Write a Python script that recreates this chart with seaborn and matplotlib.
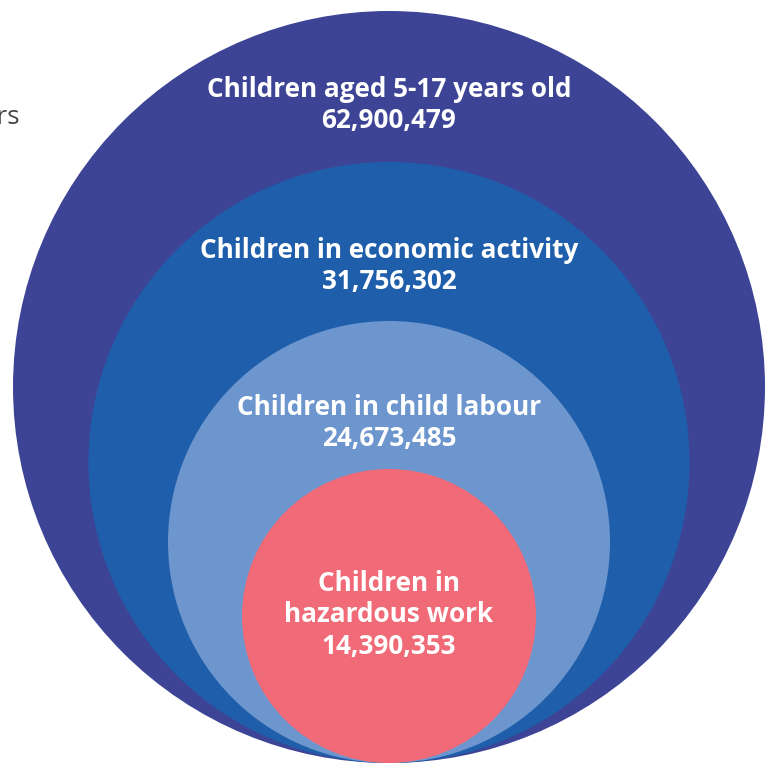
import matplotlib.patches as mpatches
import matplotlib.pyplot as plt
import seaborn as sns

sns.set_theme(style="white")
plt.rcParams['font.family'] = ['Open Sans', 'DejaVu Sans']

# nested groups, outermost first
groups = ["Children aged 5-17 years old",
          "Children in economic activity",
          "Children in child labour",
          "Children in\nhazardous work"]
counts = [62900479, 31756302, 24673485, 14390353]

# drawing sizes (px), circles all touch at the bottom
radii = [376, 300.5, 221, 147]
label_y = [105, 266, 423, 615]
colors = ["#3d4496", "#1f5eaa", "#6c96cd", "#f06a77"]

W, H = 768, 763
cx, base = 389, 763

fig = plt.figure(figsize=(W / 100, H / 100), dpi=100)
ax = fig.add_axes([0, 0, 1, 1])
ax.set_xlim(0, W)
ax.set_ylim(H, 0)
ax.set_aspect('equal')
ax.axis('off')

for r, c in zip(radii, colors):
    ax.add_patch(mpatches.Circle((cx, base - r), r, facecolor=c, edgecolor='none'))

for g, n, y in zip(groups, counts, label_y):
    ax.text(cx, y, f"{g}\n{n:,}", ha='center', va='center', color='white',
            fontsize=18.8, fontweight='bold', linespacing=1.22)

# clipped legend text at the left edge
ax.text(20, 117, "years", ha='right', va='center', color='#444444', fontsize=18.8)

plt.savefig('out.png', dpi=100)
